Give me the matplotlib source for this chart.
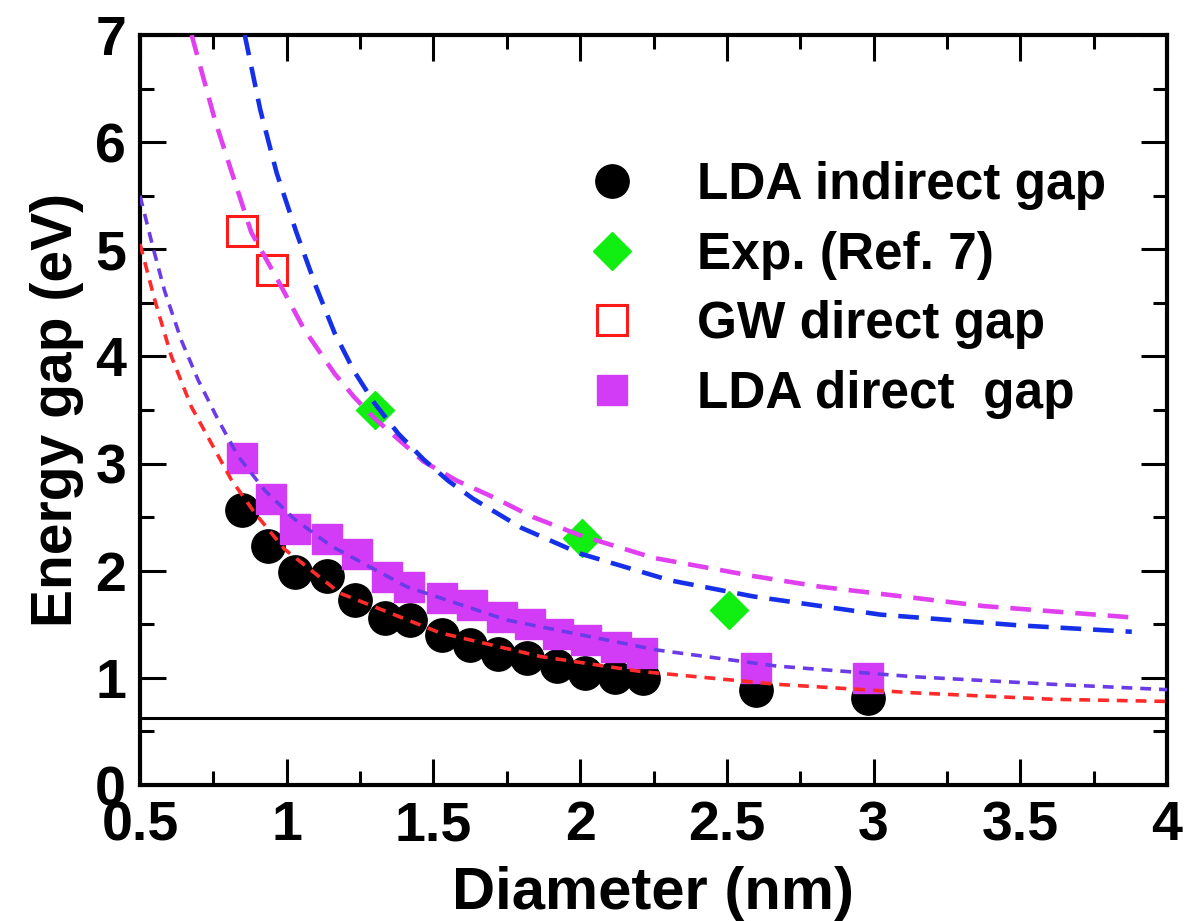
import matplotlib
matplotlib.use("Agg")
import matplotlib.pyplot as plt
from matplotlib.ticker import MultipleLocator

plt.rcParams['font.family'] = ['Liberation Sans', 'DejaVu Sans']
plt.rcParams['font.weight'] = 'bold'

# LDA indirect gap (black circles)
lda_ind_d = [0.847, 0.937, 1.028, 1.136, 1.233, 1.335, 1.420, 1.528, 1.625, 1.721,
             1.818, 1.920, 2.016, 2.119, 2.215, 2.60, 2.98]
lda_ind_e = [2.57, 2.23, 1.99, 1.95, 1.73, 1.56, 1.54, 1.40, 1.31, 1.22,
             1.19, 1.11, 1.05, 1.01, 1.00, 0.89, 0.81]

# LDA direct gap (filled magenta squares)
lda_dir_d = [0.847, 0.946, 1.028, 1.138, 1.240, 1.342, 1.416, 1.528, 1.630, 1.732,
             1.828, 1.924, 2.020, 2.122, 2.212, 2.60, 2.98]
lda_dir_e = [3.05, 2.67, 2.39, 2.30, 2.16, 1.94, 1.85, 1.75, 1.68, 1.57,
             1.50, 1.41, 1.35, 1.29, 1.23, 1.09, 1.00]

# GW direct gap (open red squares)
gw_d = [0.847, 0.951]
gw_e = [5.17, 4.81]

# Experiment (green diamonds)
exp_d = [1.30, 2.006, 2.507]
exp_e = [3.50, 2.31, 1.63]

# fitted curves
mag_fit_d = [0.676, 0.756, 0.822, 0.879, 0.97, 1.06, 1.163, 1.23, 1.30, 1.466,
             1.58, 1.693, 1.84, 2.0, 2.25, 2.59, 2.82, 3.375, 3.90]
mag_fit_e = [7.0, 6.2, 5.64, 5.16, 4.71, 4.25, 3.84, 3.62, 3.42, 3.02,
             2.84, 2.70, 2.50, 2.33, 2.12, 1.95, 1.85, 1.67, 1.56]

blue_fit_d = [0.857, 0.91, 0.966, 1.034, 1.10, 1.163, 1.23, 1.30, 1.38, 1.466,
              1.55, 1.636, 1.80, 2.0, 2.306, 2.59, 3.024, 3.495, 3.88]
blue_fit_e = [7.0, 6.3, 5.71, 5.15, 4.65, 4.22, 3.86, 3.56, 3.28, 3.04,
              2.84, 2.67, 2.40, 2.16, 1.91, 1.76, 1.59, 1.49, 1.43]

red_fit_d = [0.5, 0.55, 0.607, 0.675, 0.743, 0.811, 0.891, 0.993, 1.182, 1.523,
             1.864, 2.205, 2.67, 3.14, 3.61, 4.0]
red_fit_e = [5.05, 4.53, 4.0, 3.53, 3.19, 2.85, 2.54, 2.20, 1.79, 1.42,
             1.20, 1.06, 0.94, 0.86, 0.80, 0.78]

vio_fit_d = [0.5, 0.544, 0.584, 0.641, 0.698, 0.766, 0.834, 0.925, 1.027, 1.152,
             1.409, 1.75, 2.262, 2.67, 3.14, 3.61, 4.0]
vio_fit_e = [5.5, 5.02, 4.61, 4.15, 3.78, 3.41, 3.07, 2.75, 2.48, 2.23,
             1.85, 1.54, 1.26, 1.11, 1.01, 0.94, 0.89]

bulk_gap = 0.63

x_ticks = [0.5, 1, 1.5, 2, 2.5, 3, 3.5, 4]
x_tick_labels = ['0.5', '1', '1.5', '2', '2.5', '3', '3.5', '4']
y_ticks = [0, 1, 2, 3, 4, 5, 6, 7]

fig = plt.figure(figsize=(11.88, 9.21), dpi=100)
ax = fig.add_axes([140 / 1188, 1 - 785 / 921, 1027 / 1188, 750 / 921])

ax.plot(lda_ind_d, lda_ind_e, 'o', color='black', ms=24, zorder=3,
        label='LDA indirect gap')
ax.plot(exp_d, exp_e, 'D', color='#11ee11', ms=19, zorder=3,
        label='Exp. (Ref. 7)')
ax.plot(gw_d, gw_e, 's', mfc='none', mec='#ff1a1a', mew=2.2, ms=22, zorder=3,
        label='GW direct gap')
ax.plot(lda_dir_d, lda_dir_e, 's', color='#d23cf6', ms=22, zorder=4,
        label='LDA direct  gap')

ax.plot(mag_fit_d, mag_fit_e, color='#e040f0', lw=3.3, dashes=(4.5, 2.6), zorder=5)
ax.plot(blue_fit_d, blue_fit_e, color='#1530e8', lw=3.3, dashes=(4.5, 2.6), zorder=5)
ax.plot(red_fit_d, red_fit_e, color='#ff2a2a', lw=2.6, dashes=(3.0, 2.2), zorder=5)
ax.plot(vio_fit_d, vio_fit_e, color='#6a3ce8', lw=2.6, dashes=(3.0, 2.2), zorder=5)

ax.axhline(bulk_gap, color='black', lw=2.2, zorder=2)

ax.set_xlim(0.5, 4)
ax.set_ylim(0, 7)
ax.set_xticks(x_ticks)
ax.set_xticklabels(x_tick_labels)
ax.set_yticks(y_ticks)
ax.xaxis.set_minor_locator(MultipleLocator(0.25))
ax.yaxis.set_minor_locator(MultipleLocator(0.5))
ax.tick_params(which='both', direction='in', top=True, right=True, width=2.2)
ax.tick_params(which='major', length=19, labelsize=40)
ax.tick_params(which='minor', length=10)
ax.tick_params(axis='x', pad=11)
ax.tick_params(axis='y', pad=10)
for s in ax.spines.values():
    s.set_linewidth(3)

ax.set_xlabel('Diameter (nm)', fontsize=43, fontweight='bold', labelpad=10)
ax.set_ylabel('Energy gap (eV)', fontsize=41, fontweight='bold', labelpad=8)

ax.legend(loc='upper left', bbox_to_anchor=(0.435, 0.832), frameon=False,
          fontsize=37, numpoints=1, handlelength=1.0, handletextpad=1.15,
          labelspacing=0.40, borderpad=0, borderaxespad=0)

fig.savefig('out.png', dpi=100)
